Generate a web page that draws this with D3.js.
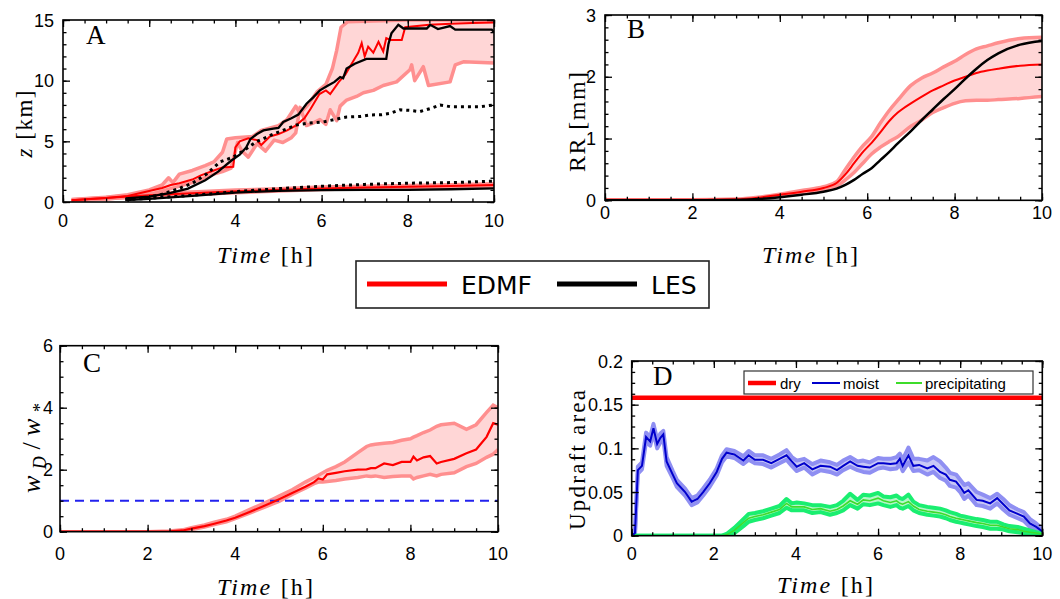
<!DOCTYPE html>
<html><head><meta charset="utf-8">
<script src="https://cdn.jsdelivr.net/npm/d3@7"></script>
<style>body{margin:0;background:#fff}svg{display:block}</style>
</head><body><svg id="c" width="1060" height="599"></svg>
<script>
// ---------------- Panel A: cloud top / base heights [km] ----------------
const aEdmfTopT   = [0.2,0.6,1.0,1.5,2.0,2.3,2.5,2.7,3.0,3.2,3.5,3.7,3.95,4.0,4.1,4.3,4.5,4.6,4.8,5.0,5.2,5.4,5.6,5.75,5.95,6.1,6.2,6.4,6.55,6.65,6.75,6.85,6.93,7.0,7.08,7.2,7.32,7.43,7.5,7.6,7.86,7.94,8.5,9.0,9.5,10.0];
const aEdmfTop    = [0.15,0.25,0.33,0.5,0.9,1.15,1.4,1.55,1.85,2.2,2.6,2.85,2.9,4.5,5.0,5.25,5.1,4.7,5.4,5.6,5.9,6.3,6.9,7.7,8.9,9.2,8.9,9.9,10.5,11.1,11.7,12.3,13.1,12.0,12.8,12.3,13.2,12.4,13.5,13.35,13.35,14.4,14.6,14.7,14.75,14.8];
const aEdmfTopUpT = [0.2,1.0,1.5,2.0,2.3,2.45,2.55,2.7,3.0,3.3,3.5,3.7,3.8,4.0,4.4,4.6,5.0,5.2,5.4,5.5,5.7,5.9,6.1,6.25,6.35,6.45,6.6,7.0,8.0,10.0];
const aEdmfTopUp  = [0.2,0.4,0.6,1.0,1.4,2.0,1.6,2.3,2.6,3.0,3.3,4.1,5.2,5.3,5.4,5.9,6.3,6.8,7.9,7.3,8.1,9.1,9.7,11.0,12.5,14.4,14.85,14.9,15.0,15.0];
const aEdmfTopLoT = [0.2,1.0,1.5,2.0,2.5,3.0,3.5,3.7,3.9,4.05,4.15,4.3,4.5,4.7,4.9,5.1,5.3,5.4,5.5,5.65,5.8,5.96,6.1,6.2,6.35,6.43,6.58,6.81,6.97,7.2,7.43,7.74,8.05,8.09,8.16,8.36,8.48,8.98,9.1,9.29,10.0];
const aEdmfTopLo  = [0.1,0.25,0.4,0.6,1.1,1.6,2.3,2.5,2.8,4.9,4.2,3.7,4.8,4.2,5.1,4.9,5.3,5.7,7.8,6.3,6.5,6.8,6.4,7.6,6.7,7.9,8.4,8.7,9.0,9.2,9.6,9.9,10.9,11.3,10.0,11.15,9.6,9.9,11.3,11.55,11.45];
const aLesTopT    = [1.45,2.0,2.5,2.9,3.3,3.6,3.9,4.1,4.25,4.35,4.5,4.65,4.88,5.0,5.11,5.3,5.46,5.65,5.8,5.96,6.15,6.3,6.43,6.5,6.58,6.77,7.04,7.5,7.55,7.62,7.78,7.9,8.44,8.52,8.7,8.98,9.1,9.95,10.0];
const aLesTop     = [0.3,0.45,0.75,1.1,1.8,2.5,3.4,3.9,4.5,5.2,5.6,5.9,6.05,6.1,6.6,6.9,7.2,8.1,8.6,9.2,9.6,9.9,10.3,10.2,11.0,11.4,11.8,11.8,13.0,13.9,14.6,14.3,14.3,14.6,14.25,14.5,14.2,14.2,14.0];
const aLesTopMeanT= [1.45,2.0,2.25,2.7,3.0,3.33,3.64,3.95,4.26,4.49,4.7,4.88,5.1,5.42,5.7,6.04,6.3,6.58,6.9,7.12,7.4,7.59,7.82,8.05,8.28,8.52,8.75,8.98,9.3,9.7,10.0];
const aLesTopMean = [0.2,0.4,0.58,1.13,1.54,2.3,3.3,3.7,4.4,4.97,5.3,5.6,5.9,6.35,6.5,6.6,6.8,7.0,7.05,7.17,7.2,7.3,7.6,7.55,7.45,7.7,8.0,7.86,7.86,7.86,8.0];
const aEdmfBaseT  = [0.2,1.0,1.5,2,3,4,5,6,7,8,9,10];
const aEdmfBase   = [0.15,0.33,0.45,0.55,0.72,0.88,1.0,1.12,1.2,1.26,1.32,1.4];
const aEdmfBaseUp = [0.2,0.4,0.55,0.7,0.85,1.0,1.12,1.25,1.32,1.38,1.44,1.52];
const aEdmfBaseLo = [0.1,0.25,0.35,0.42,0.6,0.75,0.88,1.0,1.08,1.14,1.2,1.28];
const aLesBaseT   = [1.45,2,3,4,5,6,7,8,9,10];
const aLesBase    = [0.15,0.25,0.5,0.78,0.92,0.98,1.0,1.0,1.05,1.13];
const aLesBaseMeanT = [1.45,2,3,4,5,6,7,8,9,10];
const aLesBaseMean  = [0.2,0.3,0.55,0.85,1.1,1.3,1.45,1.55,1.6,1.72];

// ---------------- Panel B: accumulated rain RR [mm] ----------------
const bT       = [0,1,2,3,3.5,4,4.5,5,5.3,5.5,5.7,5.9,6.1,6.3,6.5,6.7,7,7.25,7.5,7.75,8,8.25,8.5,8.75,9,9.5,10];
const bEdmf    = [0.01,0.01,0.01,0.015,0.04,0.09,0.14,0.2,0.28,0.42,0.6,0.78,0.93,1.1,1.28,1.42,1.57,1.68,1.78,1.86,1.94,2.0,2.06,2.1,2.13,2.18,2.2];
const bEdmfUp  = [0.01,0.01,0.01,0.02,0.05,0.1,0.16,0.22,0.3,0.5,0.7,0.88,1.03,1.25,1.45,1.62,1.86,1.98,2.06,2.16,2.25,2.36,2.45,2.5,2.55,2.62,2.64];
const bEdmfLo  = [0.005,0.005,0.005,0.01,0.03,0.07,0.11,0.17,0.23,0.33,0.45,0.6,0.75,0.86,0.95,1.03,1.2,1.3,1.42,1.5,1.57,1.61,1.62,1.62,1.63,1.65,1.68];
const bLes     = [0,0,0,0.005,0.02,0.05,0.09,0.14,0.19,0.25,0.33,0.43,0.52,0.65,0.78,0.92,1.12,1.3,1.47,1.64,1.8,1.97,2.13,2.27,2.38,2.52,2.58];

// ---------------- Panel C: w_D / w_* ----------------
const cT     = [0,1,2,2.5,2.8,3.0,3.3,3.5,3.8,4.0,4.3,4.6,4.9,5.0,5.3,5.6,5.8,5.9,6.0,6.1,6.3,6.5,6.8,7.0,7.1,7.2,7.4,7.6,7.8,8.0,8.07,8.15,8.3,8.45,8.6,8.7,9.0,9.28,9.5,9.74,9.89,10.0];
const cMean  = [0,0,0,0.01,0.04,0.1,0.18,0.25,0.36,0.45,0.62,0.8,0.98,1.05,1.25,1.45,1.6,1.72,1.68,1.85,1.9,1.95,2.0,2.01,2.05,2.05,2.2,2.15,2.25,2.25,2.42,2.3,2.4,2.44,2.2,2.25,2.35,2.53,2.65,3.06,3.5,3.45];
const cUp    = [0,0,0,0.02,0.06,0.13,0.22,0.3,0.4,0.5,0.7,0.88,1.08,1.15,1.35,1.6,1.75,1.82,1.9,1.98,2.1,2.25,2.55,2.75,2.8,2.82,2.85,2.88,2.95,3.0,3.05,3.1,3.2,3.28,3.4,3.45,3.5,3.3,3.45,3.85,4.08,4.0];
const cLo    = [0,0,0,0,0.02,0.07,0.15,0.22,0.32,0.42,0.58,0.75,0.92,0.98,1.2,1.4,1.55,1.6,1.6,1.62,1.65,1.7,1.75,1.8,1.78,1.8,1.75,1.78,1.8,1.8,1.7,1.75,1.8,1.85,1.8,1.85,1.9,2.1,2.2,2.4,2.5,2.65];
const cRef   = 1;

// ---------------- Panel D: updraft area fractions ----------------
const dT = [0,0.08,0.15,0.25,0.35,0.45,0.53,0.62,0.7,0.77,
  0.85,1.0,1.1,1.3,1.46,1.6,1.74,1.9,2.07,2.2,
  2.31,2.5,2.72,2.85,3.0,3.2,3.4,3.6,3.77,3.9,
  4.02,4.2,4.4,4.6,4.83,5.0,5.15,5.32,5.5,5.64,
  5.8,6.0,6.13,6.3,6.45,6.53,6.6,6.74,6.86,7.0,
  7.2,7.35,7.51,7.65,7.75,7.9,8.0,8.1,8.2,8.4,
  8.55,8.73,8.9,9.05,9.2,9.4,9.55,9.7,9.85,10];
const dDry = 0.158;
const dMoist = [0,0.003,0.075,0.08,0.113,0.108,0.123,0.105,0.112,0.116,
  0.085,0.07,0.06,0.05,0.039,0.042,0.05,0.06,0.073,0.088,
  0.095,0.093,0.086,0.092,0.087,0.087,0.083,0.088,0.092,0.085,
  0.079,0.083,0.076,0.08,0.079,0.075,0.08,0.085,0.08,0.079,
  0.078,0.083,0.083,0.082,0.083,0.088,0.08,0.092,0.08,0.081,
  0.077,0.08,0.073,0.07,0.064,0.062,0.056,0.049,0.052,0.041,
  0.04,0.037,0.043,0.036,0.029,0.025,0.022,0.014,0.01,0.005];
const dMoistUp = [0,0.005,0.079,0.084,0.118,0.113,0.128,0.11,0.117,0.12,
  0.09,0.074,0.064,0.054,0.043,0.046,0.054,0.064,0.077,0.092,
  0.099,0.097,0.091,0.097,0.092,0.092,0.088,0.093,0.098,0.09,
  0.086,0.088,0.082,0.086,0.084,0.081,0.086,0.09,0.085,0.086,
  0.084,0.089,0.088,0.088,0.09,0.094,0.087,0.101,0.088,0.088,
  0.086,0.09,0.085,0.078,0.072,0.07,0.064,0.058,0.06,0.05,
  0.047,0.043,0.048,0.042,0.035,0.03,0.027,0.019,0.014,0.008];
const dMoistLo = [0,0.001,0.071,0.076,0.108,0.103,0.118,0.1,0.107,0.111,
  0.08,0.066,0.056,0.046,0.035,0.038,0.046,0.056,0.069,0.084,
  0.091,0.089,0.082,0.087,0.083,0.082,0.078,0.083,0.087,0.08,
  0.074,0.078,0.07,0.075,0.073,0.07,0.075,0.079,0.075,0.073,
  0.072,0.077,0.078,0.076,0.077,0.082,0.074,0.084,0.074,0.075,
  0.07,0.073,0.066,0.063,0.057,0.055,0.05,0.042,0.046,0.035,
  0.034,0.031,0.037,0.03,0.024,0.02,0.017,0.01,0.006,0.002];
const dPrec = [0,0,0,0,0,0,0,0,0,0,
  0,0,0,0,0,0,0,0,0,0,
  0.001,0.006,0.015,0.02,0.022,0.024,0.027,0.03,0.037,0.033,
  0.033,0.033,0.03,0.031,0.028,0.03,0.034,0.04,0.036,0.041,
  0.04,0.043,0.04,0.038,0.04,0.037,0.036,0.039,0.034,0.03,
  0.028,0.027,0.026,0.024,0.022,0.02,0.019,0.018,0.017,0.015,
  0.014,0.012,0.012,0.01,0.008,0.007,0.005,0.004,0.003,0.002];
const dPrecUp = [0,0,0,0,0,0,0,0,0,0,
  0,0,0,0,0,0,0,0,0,0,
  0.002,0.009,0.019,0.025,0.026,0.028,0.031,0.034,0.042,0.037,
  0.038,0.037,0.035,0.035,0.033,0.035,0.04,0.048,0.041,0.047,
  0.046,0.049,0.045,0.044,0.046,0.043,0.042,0.047,0.039,0.035,
  0.033,0.032,0.031,0.029,0.027,0.025,0.023,0.022,0.021,0.019,
  0.018,0.016,0.016,0.013,0.011,0.01,0.008,0.006,0.004,0.003];
const dPrecLo = [0,0,0,0,0,0,0,0,0,0,
  0,0,0,0,0,0,0,0,0,0,
  0,0.003,0.011,0.016,0.018,0.02,0.023,0.026,0.032,0.029,
  0.029,0.029,0.026,0.027,0.024,0.026,0.029,0.035,0.031,0.036,
  0.035,0.037,0.035,0.033,0.035,0.032,0.031,0.034,0.029,0.026,
  0.024,0.023,0.022,0.02,0.018,0.016,0.015,0.014,0.013,0.011,
  0.01,0.008,0.008,0.007,0.005,0.004,0.003,0.002,0.001,0.001];

// tick values
const xMajor = [0,2,4,6,8,10];
const xMinor = d3.range(0,10.001,0.5);
const aYMajor = [0,5,10,15], aYMinor = d3.range(0,15.001,1);
const bYMajor = [0,1,2,3],   bYMinor = d3.range(0,3.001,0.2);
const cYMajor = [0,2,4,6],   cYMinor = d3.range(0,6.001,0.5);
const dYMajor = [0,0.05,0.1,0.15,0.2], dYMinor = d3.range(0,0.2001,0.0125);
const dYLabels = ['0','0.05','0.1','0.15','0.2'];

const legendMain = ['EDMF','LES'];
const legendD = ['dry','moist','precipitating'];

// ---------------- drawing ----------------
const svg = d3.select('#c');
const SANS = '"Liberation Sans", Arial, sans-serif';
const SERIF = '"Liberation Serif", "Times New Roman", serif';

function panel(cfg){
  const x = d3.scaleLinear().domain([0,10]).range([cfg.x0,cfg.x1]);
  const y = d3.scaleLinear().domain(cfg.ydom).range([cfg.y1,cfg.y0]);
  const g = svg.append('g');
  const id = 'clip'+cfg.id;
  svg.append('clipPath').attr('id',id).append('rect')
    .attr('x',cfg.x0).attr('y',cfg.y0).attr('width',cfg.x1-cfg.x0).attr('height',cfg.y1-cfg.y0);
  const plot = g.append('g').attr('clip-path',`url(#${id})`);
  const axes = g.append('g');
  return {x,y,plot,axes,g,cfg};
}
function finishAxes(p, yMajor, yMinor, yLabels, xLabelY, yLabelX){
  const {x,y,axes,cfg} = p;
  const ax = axes;
  const addAxis = (gen, tr) => {
    const a = ax.append('g').attr('transform',tr).call(gen);
    a.select('.domain').remove();
    a.selectAll('line').attr('stroke','#000').attr('stroke-width',1.3);
  };
  addAxis(d3.axisBottom(x).tickValues(xMajor).tickSize(-7).tickFormat(''), `translate(0,${cfg.y1})`);
  addAxis(d3.axisBottom(x).tickValues(xMinor).tickSize(-3.5).tickFormat(''), `translate(0,${cfg.y1})`);
  addAxis(d3.axisTop(x).tickValues(xMajor).tickSize(-7).tickFormat(''), `translate(0,${cfg.y0})`);
  addAxis(d3.axisTop(x).tickValues(xMinor).tickSize(-3.5).tickFormat(''), `translate(0,${cfg.y0})`);
  addAxis(d3.axisLeft(y).tickValues(yMajor).tickSize(-7).tickFormat(''), `translate(${cfg.x0},0)`);
  addAxis(d3.axisLeft(y).tickValues(yMinor).tickSize(-3.5).tickFormat(''), `translate(${cfg.x0},0)`);
  addAxis(d3.axisRight(y).tickValues(yMajor).tickSize(-7).tickFormat(''), `translate(${cfg.x1},0)`);
  addAxis(d3.axisRight(y).tickValues(yMinor).tickSize(-3.5).tickFormat(''), `translate(${cfg.x1},0)`);
  ax.append('rect').attr('x',cfg.x0).attr('y',cfg.y0).attr('width',cfg.x1-cfg.x0).attr('height',cfg.y1-cfg.y0)
    .attr('fill','none').attr('stroke','#000').attr('stroke-width',1.6);
  ax.selectAll('.xl').data(xMajor).join('text').attr('class','xl')
    .attr('x',d=>x(d)).attr('y',xLabelY).attr('text-anchor','middle')
    .attr('font-family',SANS).attr('font-size',18).text(d=>d);
  ax.selectAll('.yl').data(yMajor).join('text').attr('class','yl')
    .attr('x',yLabelX).attr('y',d=>y(d)+6.5).attr('text-anchor','end')
    .attr('font-family',SANS).attr('font-size',18).text((d,i)=>yLabels? yLabels[i] : d);
}
function line(p, t, v, attrs, curve){
  const l = d3.line().x((d,i)=>p.x(t[i])).y((d,i)=>p.y(v[i]));
  if (curve) l.curve(curve);
  const path = p.plot.append('path').attr('d', l(v)).attr('fill','none');
  for (const k in attrs) path.attr(k, attrs[k]);
  return path;
}
function band(p, tu, up, tl, lo, fill, curve){
  if (curve) {
    const area = d3.area().x((d,i)=>p.x(tu[i])).y0((d,i)=>p.y(lo[i])).y1((d,i)=>p.y(up[i])).curve(curve);
    p.plot.append('path').attr('d', area(up)).attr('fill',fill);
    return;
  }
  const pts = tu.map((d,i)=>[p.x(d),p.y(up[i])])
    .concat(tl.map((d,i)=>[p.x(d),p.y(lo[i])]).reverse());
  p.plot.append('path').attr('d', d3.line()(pts)+'Z').attr('fill',fill).attr('stroke','none');
}
function xTitle(cx, by){
  const t = svg.append('text').attr('x',cx).attr('y',by).attr('text-anchor','middle')
    .attr('font-family',SERIF).attr('font-size',24)
    .attr('textLength',96).attr('lengthAdjust','spacing');
  t.append('tspan').attr('font-style','italic').text('Time');
  t.append('tspan').text(' [h]');
}
function panelLetter(x0, by, s){
  svg.append('text').attr('x',x0).attr('y',by).attr('font-family',SERIF).attr('font-size',27).text(s);
}

const RED='#ff0000', BAND='#ffd6d6', EDGE='#ff8f8f';
const smooth = d3.curveMonotoneX;

// ===== Panel A =====
const A = panel({id:'A', x0:63, x1:494, y0:20, y1:202, ydom:[0,15]});
band(A, aEdmfTopUpT, aEdmfTopUp, aEdmfTopLoT, aEdmfTopLo, BAND);
band(A, aEdmfBaseT, aEdmfBaseUp, aEdmfBaseT, aEdmfBaseLo, BAND);
line(A, aEdmfTopUpT, aEdmfTopUp, {stroke:EDGE,'stroke-width':3.5,'stroke-linejoin':'round'});
line(A, aEdmfTopLoT, aEdmfTopLo, {stroke:EDGE,'stroke-width':3.5,'stroke-linejoin':'round'});
line(A, aEdmfBaseT, aEdmfBaseUp, {stroke:EDGE,'stroke-width':3,'stroke-linejoin':'round'});
line(A, aEdmfBaseT, aEdmfBaseLo, {stroke:EDGE,'stroke-width':3,'stroke-linejoin':'round'});
line(A, aEdmfTopT, aEdmfTop, {stroke:RED,'stroke-width':2});
line(A, aEdmfBaseT, aEdmfBase, {stroke:RED,'stroke-width':2});
line(A, aLesTopMeanT, aLesTopMean, {stroke:'#000','stroke-width':3,'stroke-dasharray':'3,4'});
line(A, aLesBaseMeanT, aLesBaseMean, {stroke:'#000','stroke-width':3,'stroke-dasharray':'3,4'});
line(A, aLesTopT, aLesTop, {stroke:'#000','stroke-width':2.3});
line(A, aLesBaseT, aLesBase, {stroke:'#000','stroke-width':2.3});
finishAxes(A, aYMajor, aYMinor, null, 227, 54);
panelLetter(86, 44, 'A');
xTitle(265, 263);
{
  const t = svg.append('text').attr('transform','translate(32,124) rotate(-90)').attr('text-anchor','middle')
    .attr('font-family',SERIF).attr('font-size',23).attr('textLength',67).attr('lengthAdjust','spacing');
  t.append('tspan').attr('font-style','italic').text('z');
  t.append('tspan').text(' [km]');
}

// ===== Panel B =====
const B = panel({id:'B', x0:605, x1:1042, y0:15, y1:200.3, ydom:[0,3]});
band(B, bT, bEdmfUp, bT, bEdmfLo, BAND, smooth);
line(B, bT, bEdmfUp, {stroke:EDGE,'stroke-width':3.5}, smooth);
line(B, bT, bEdmfLo, {stroke:EDGE,'stroke-width':3.5}, smooth);
line(B, bT, bEdmf, {stroke:RED,'stroke-width':2}, smooth);
line(B, bT, bLes, {stroke:'#000','stroke-width':2.5}, smooth);
finishAxes(B, bYMajor, bYMinor, null, 219, 596);
panelLetter(627, 38, 'B');
xTitle(810, 263);
svg.append('text').attr('transform','translate(585,122) rotate(-90)').attr('text-anchor','middle')
  .attr('font-family',SERIF).attr('font-size',24).attr('textLength',100).attr('lengthAdjust','spacing').text('RR [mm]');

// ===== Panel C =====
const C = panel({id:'C', x0:60, x1:498, y0:345.7, y1:531.7, ydom:[0,6]});
band(C, cT, cUp, cT, cLo, BAND);
line(C, cT, cUp, {stroke:EDGE,'stroke-width':3.5});
line(C, cT, cLo, {stroke:EDGE,'stroke-width':3.5});
line(C, [0,10], [cRef,cRef], {stroke:'#2222ee','stroke-width':2,'stroke-dasharray':'9,6'});
line(C, cT, cMean, {stroke:RED,'stroke-width':2.2});
finishAxes(C, cYMajor, cYMinor, null, 560, 53);
panelLetter(83, 372, 'C');
xTitle(265, 595);
{
  const t = svg.append('text').attr('transform','translate(40,448) rotate(-90)').attr('text-anchor','middle')
    .attr('font-family',SERIF).attr('font-size',26).attr('font-style','italic')
    .attr('textLength',90).attr('lengthAdjust','spacing');
  t.append('tspan').text('w');
  t.append('tspan').attr('font-size',18).attr('dy',6).text('D');
  t.append('tspan').attr('dy',-6).attr('font-style','normal').text('/');
  t.append('tspan').text('w');
  t.append('tspan').attr('font-size',18).attr('dy',6).attr('font-style','normal').text('*');
}

// ===== Panel D =====
const D = panel({id:'D', x0:631.7, x1:1042.3, y0:361, y1:535.7, ydom:[0,0.2]});
band(D, dT, dMoistUp, dT, dMoistLo, '#c8c8f6');
line(D, dT, dMoistUp, {stroke:'#8f8ff2','stroke-width':4,'stroke-linejoin':'round'});
line(D, dT, dMoistLo, {stroke:'#8f8ff2','stroke-width':4,'stroke-linejoin':'round'});
band(D, dT, dPrecUp, dT, dPrecLo, '#b4f5c8');
line(D, dT, dPrecUp, {stroke:'#1aee70','stroke-width':4,'stroke-linejoin':'round'});
line(D, dT, dPrecLo, {stroke:'#1aee70','stroke-width':4,'stroke-linejoin':'round'});
line(D, dT, dMoist, {stroke:'#0000cc','stroke-width':2});
line(D, dT, dPrec, {stroke:'#3ddc2a','stroke-width':1.6});
line(D, [0,10], [dDry,dDry], {stroke:RED,'stroke-width':4.5});
finishAxes(D, dYMajor, dYMinor, dYLabels, 560, 623);
panelLetter(653, 385, 'D');
xTitle(825, 593);
svg.append('text').attr('transform','translate(585,460) rotate(-90)').attr('text-anchor','middle')
  .attr('font-family',SERIF).attr('font-size',23).attr('textLength',140).attr('lengthAdjust','spacing').text('Updraft area');

// legend D
{
  const g = svg.append('g');
  g.append('rect').attr('x',744).attr('y',371).attr('width',289).attr('height',23)
    .attr('fill','#fff').attr('stroke','#333').attr('stroke-width',1.2);
  const items = [
    {x1:748,x2:776,tx:780,c:RED,w:4.5},
    {x1:812,x2:840,tx:843,c:'#0000cc',w:2},
    {x1:896,x2:922,tx:925,c:'#3ddc2a',w:2}
  ];
  items.forEach((it,i)=>{
    g.append('line').attr('x1',it.x1).attr('x2',it.x2).attr('y1',383).attr('y2',383)
      .attr('stroke',it.c).attr('stroke-width',it.w);
    g.append('text').attr('x',it.tx).attr('y',388.5).attr('font-family',SANS).attr('font-size',15).text(legendD[i]);
  });
}

// main legend
{
  const g = svg.append('g');
  g.append('rect').attr('x',356).attr('y',261).attr('width',353).attr('height',47)
    .attr('fill','#fff').attr('stroke','#222').attr('stroke-width',1.6);
  g.append('line').attr('x1',367).attr('x2',447).attr('y1',284).attr('y2',284).attr('stroke',RED).attr('stroke-width',5);
  g.append('text').attr('x',461).attr('y',293.5).attr('font-family','"DejaVu Sans", sans-serif').attr('font-size',25).text(legendMain[0]);
  g.append('line').attr('x1',557).attr('x2',637).attr('y1',284).attr('y2',284).attr('stroke','#000').attr('stroke-width',5);
  g.append('text').attr('x',651).attr('y',293.5).attr('font-family','"DejaVu Sans", sans-serif').attr('font-size',25).text(legendMain[1]);
}
</script></body></html>
